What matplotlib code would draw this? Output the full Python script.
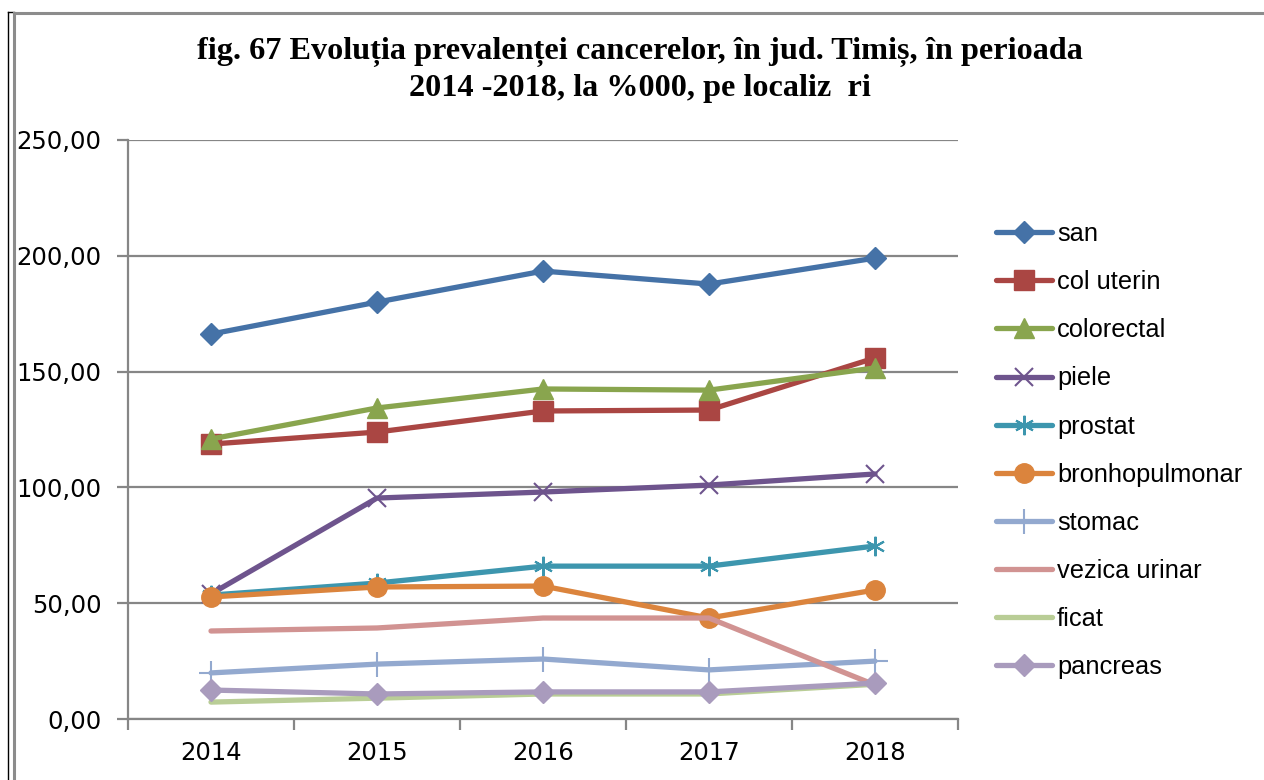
import matplotlib
matplotlib.use("Agg")
import matplotlib.pyplot as plt
from matplotlib.lines import Line2D

years = ["2014", "2015", "2016", "2017", "2018"]
y_ticks = [0, 50, 100, 150, 200, 250]
y_tick_labels = ["0,00", "50,00", "100,00", "150,00", "200,00", "250,00"]

san = [166.2, 180.0, 193.4, 187.8, 199.0]
col_uterin = [118.7, 123.9, 133.0, 133.4, 155.9]
colorectal = [120.9, 134.3, 142.5, 142.0, 151.6]
piele = [54.0, 95.4, 98.0, 101.0, 105.8]
prostat = [53.5, 58.7, 66.0, 66.0, 74.7]
bronhopulmonar = [52.7, 57.0, 57.4, 43.6, 55.7]
stomac = [19.9, 23.7, 25.9, 21.2, 25.0]
vezica_urinar = [38.0, 39.3, 43.6, 43.6, 14.7]
ficat = [7.3, 9.0, 10.8, 10.8, 15.0]
pancreas = [12.5, 10.8, 11.7, 11.7, 15.5]

series = [
    ("san", san, "#4572A7", dict(marker="D", ms=11)),
    ("col uterin", col_uterin, "#AA4643", dict(marker="s", ms=14)),
    ("colorectal", colorectal, "#89A54E", dict(marker="^", ms=15)),
    ("piele", piele, "#6E548D", dict(marker="x", ms=13, mew=1.5)),
    ("prostat", prostat, "#3D96AE", dict(marker=(6, 2, 0), ms=14, mew=1.5)),
    ("bronhopulmonar", bronhopulmonar, "#DB843D", dict(marker="o", ms=14)),
    ("stomac", stomac, "#93A9CF", dict(marker="+", ms=18, mew=1.5)),
    ("vezica urinar", vezica_urinar, "#D19392", dict(marker="None")),
    ("ficat", ficat, "#B9CD96", dict(marker="None")),
    ("pancreas", pancreas, "#A99BBD", dict(marker="D", ms=11)),
]

W, H = 1264, 780
fig = plt.figure(figsize=(W / 100, H / 100), dpi=100)

# outer frame of the chart
frame = dict(transform=fig.transFigure, figure=fig)
fig.lines.append(Line2D([8 / W, 8 / W], [1 - 12 / H, 0], color="black", lw=1.0, **frame))
fig.lines.append(Line2D([8 / W, 14 / W], [1 - 12 / H, 1 - 12 / H], color="black", lw=1.0, **frame))
fig.lines.append(Line2D([14 / W, 14 / W], [1 - 13 / H, 0], color="#8c8c8c", lw=2.2, **frame))
fig.lines.append(Line2D([14 / W, 1], [1 - 12.5 / H, 1 - 12.5 / H], color="#8c8c8c", lw=2.2, **frame))

ax_left, ax_right, ax_top, ax_bottom = 128, 958, 140, 719
ax = fig.add_axes([ax_left / W, 1 - ax_bottom / H, (ax_right - ax_left) / W, (ax_bottom - ax_top) / H])

x = [i + 0.5 for i in range(len(years))]
for name, vals, color, mk in series:
    ax.plot(x, vals, color=color, lw=3.8, label=name, solid_capstyle="round",
            markerfacecolor=color, markeredgecolor=color, **mk)

ax.set_xlim(0, len(years))
ax.set_ylim(0, 250)

grid_color = "#868686"
ax.set_yticks(y_ticks)
ax.set_yticklabels(y_tick_labels, fontsize=17.5, family="DejaVu Sans")
ax.yaxis.grid(True, color=grid_color, lw=1.6)
ax.set_axisbelow(True)

ax.set_xticks(range(len(years) + 1))
ax.set_xticklabels([])
ax.set_xticks(x, minor=True)
ax.set_xticklabels(years, minor=True, fontsize=17.5, family="DejaVu Sans")
ax.tick_params(axis="x", which="minor", length=0, pad=16)
ax.tick_params(axis="both", which="major", length=8, width=1.6, color=grid_color)
ax.tick_params(axis="y", pad=11)

for s in ("top", "right"):
    ax.spines[s].set_visible(False)
for s in ("left", "bottom"):
    ax.spines[s].set_color(grid_color)
    ax.spines[s].set_linewidth(1.6)

fig.text(640 / W, 1 - 70 / H, "fig. 67 Evoluția prevalenței cancerelor, în jud. Timiș, în perioada\n2014 -2018, la %000, pe localiz  ri",
         ha="center", va="center", fontsize=23.2, fontweight="bold", family="Liberation Serif",
         linespacing=1.28)

leg = ax.legend(loc="upper left", bbox_to_anchor=(996 / W, 1 - 222 / H), bbox_transform=fig.transFigure,
                frameon=False, prop=dict(family="Liberation Sans", size=18.3),
                handlelength=2.2, handletextpad=0.2, labelspacing=0.95, borderpad=0, borderaxespad=0,
                markerscale=1.0)

fig.savefig("out.png", dpi=100)
